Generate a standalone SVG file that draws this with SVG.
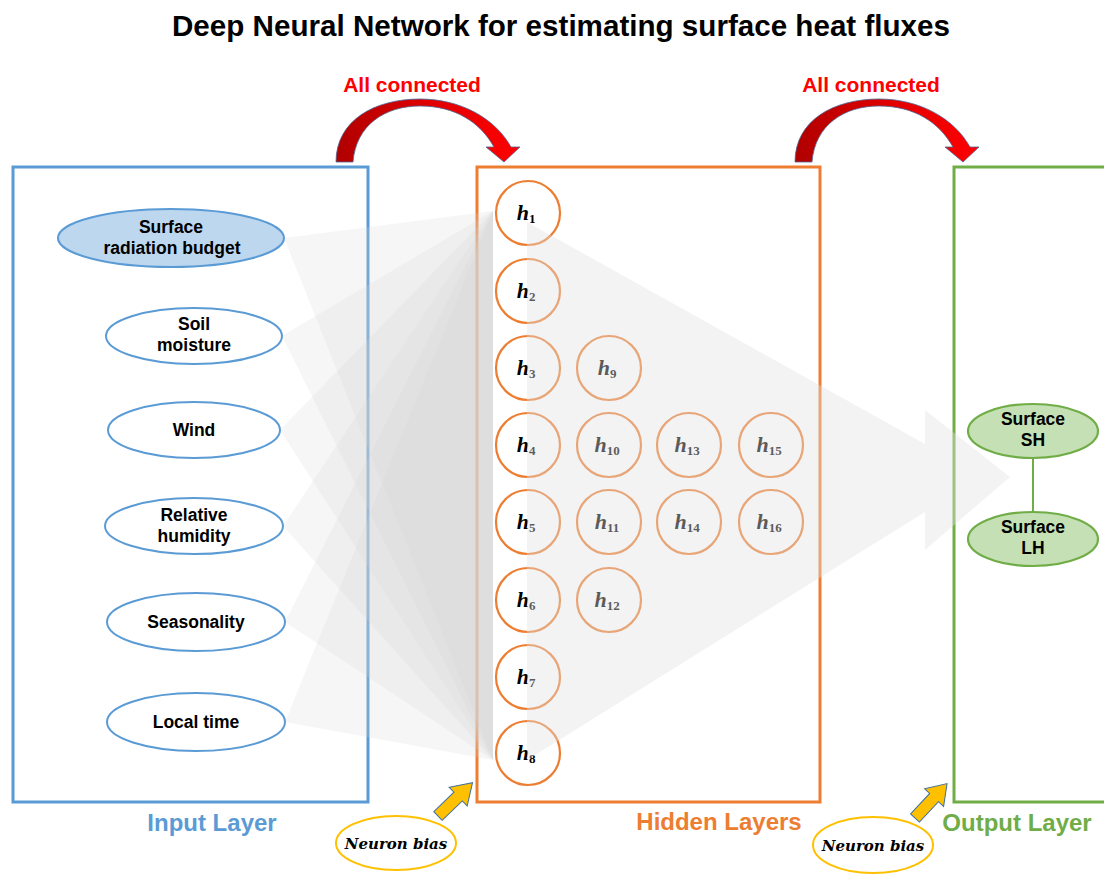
<svg xmlns="http://www.w3.org/2000/svg" width="1104" height="874" viewBox="0 0 1104 874">
<defs>
<linearGradient id="red" x1="0" y1="0" x2="1" y2="0">
<stop offset="0" stop-color="#b00000"/><stop offset="0.5" stop-color="#e00000"/><stop offset="1" stop-color="#ff0000"/>
</linearGradient>
<style>
.title{font-family:"Liberation Sans",Arial,sans-serif;font-weight:bold;font-size:29px;fill:#000}
.red{font-family:"Liberation Sans",Arial,sans-serif;font-weight:bold;font-size:21px;fill:#ff0000}
.lay{font-family:"Liberation Sans",Arial,sans-serif;font-weight:bold;font-size:24px}
.in{font-family:"Liberation Sans",Arial,sans-serif;font-weight:bold;font-size:17.5px;fill:#000}
.hl{font-family:"Liberation Serif","DejaVu Serif",serif;font-weight:bold;font-style:italic;font-size:22px;fill:#000}
.sub{font-size:13px;font-style:normal}
.nb{font-family:"DejaVu Serif","Liberation Serif",serif;font-weight:bold;font-style:italic;font-size:15px;fill:#000}
.ie{fill:#fff;stroke:#5b9bd5;stroke-width:2}
.hc{fill:#fff;stroke:#ed7d31;stroke-width:2.2}
.oe{fill:#c5e0b4;stroke:#70ad47;stroke-width:2.2}
.fan{fill:#d8d8d8;opacity:0.22}
.ya{fill:#ffc000;stroke:#41719c;stroke-width:1}
.be{fill:#fff;stroke:#ffc000;stroke-width:2}
</style>
</defs>
<rect width="1104" height="874" fill="#fff"/>
<text class="title" x="561" y="36" text-anchor="middle" textLength="778" lengthAdjust="spacingAndGlyphs">Deep Neural Network for estimating surface heat fluxes</text>

<g id="input-layer">
<rect x="13" y="167" width="355" height="635" fill="none" stroke="#5b9bd5" stroke-width="3"/>
<text class="lay" x="212" y="831" text-anchor="middle" fill="#5b9bd5">Input Layer</text>
</g>
<g id="hidden-layers">
<rect x="477" y="167" width="343" height="635" fill="none" stroke="#ed7d31" stroke-width="3"/>
<text class="lay" x="719" y="830" text-anchor="middle" fill="#ed7d31">Hidden Layers</text>
</g>
<g id="output-layer">
<rect x="954" y="167" width="170" height="635" fill="none" stroke="#70ad47" stroke-width="3"/>
<text class="lay" x="1017" y="831" text-anchor="middle" fill="#70ad47">Output Layer</text>
</g>

<g id="connectors">
<polygon class="fan" points="284,238 493,211 493,760"/>
<polygon class="fan" points="282,336 493,211 493,760"/>
<polygon class="fan" points="280,430 493,211 493,760"/>
<polygon class="fan" points="283,526 493,211 493,760"/>
<polygon class="fan" points="285,622 493,211 493,760"/>
<polygon class="fan" points="285,722 493,211 493,760"/>
<path d="M336 162 C336 120 375 99 420 99 C460 99 495 118 511 147 L520 147 L504 162 L486 147 L494 147 C480 122 455 106 420 106 C385 106 356 125 353 162 Z" fill="url(#red)" stroke="#4a6a95" stroke-width="0.8"/>
<path d="M336 162 C336 120 375 99 420 99 C460 99 495 118 511 147 L520 147 L504 162 L486 147 L494 147 C480 122 455 106 420 106 C385 106 356 125 353 162 Z" fill="url(#red)" stroke="#4a6a95" stroke-width="0.8" transform="translate(459,0)"/>
<polygon class="ya" points="0,-6 28,-6 28,-13 48,0 28,13 28,6 0,6" transform="translate(438,816) rotate(-44)"/>
<polygon class="ya" points="0,-6 28,-6 28,-13 47,0 28,13 28,6 0,6" transform="translate(915,818) rotate(-47)"/>
<line x1="1033" y1="458" x2="1033" y2="512" stroke="#70ad47" stroke-width="2"/>
</g>
<text class="red" x="412" y="92" text-anchor="middle">All connected</text>
<text class="red" x="871" y="92" text-anchor="middle">All connected</text>

<g id="in1"><ellipse cx="171" cy="238" rx="113" ry="29" fill="#bdd7ee" stroke="#5b9bd5" stroke-width="2"/><text class="in" x="171" y="233" text-anchor="middle">Surface</text><text class="in" x="172" y="254" text-anchor="middle">radiation budget</text></g>
<g id="in2"><ellipse class="ie" cx="194" cy="336" rx="88" ry="28"/><text class="in" x="194" y="330" text-anchor="middle">Soil</text><text class="in" x="194" y="351" text-anchor="middle">moisture</text></g>
<g id="in3"><ellipse class="ie" cx="194" cy="430" rx="86" ry="28"/><text class="in" x="194" y="436" text-anchor="middle">Wind</text></g>
<g id="in4"><ellipse class="ie" cx="194" cy="526" rx="89" ry="28"/><text class="in" x="194" y="521" text-anchor="middle">Relative</text><text class="in" x="194" y="542" text-anchor="middle">humidity</text></g>
<g id="in5"><ellipse class="ie" cx="196" cy="622" rx="89" ry="29"/><text class="in" x="196" y="628" text-anchor="middle">Seasonality</text></g>
<g id="in6"><ellipse class="ie" cx="196" cy="722" rx="89" ry="29"/><text class="in" x="196" y="728" text-anchor="middle">Local time</text></g>

<g id="h1"><circle class="hc" cx="528" cy="213" r="32"/><text class="hl" x="526" y="220" text-anchor="middle">h<tspan class="sub" dy="3">1</tspan></text></g>
<g id="h2"><circle class="hc" cx="528" cy="291" r="32"/><text class="hl" x="526" y="298" text-anchor="middle">h<tspan class="sub" dy="3">2</tspan></text></g>
<g id="h3"><circle class="hc" cx="528" cy="368" r="32"/><text class="hl" x="526" y="375" text-anchor="middle">h<tspan class="sub" dy="3">3</tspan></text></g>
<g id="h4"><circle class="hc" cx="528" cy="445" r="32"/><text class="hl" x="526" y="452" text-anchor="middle">h<tspan class="sub" dy="3">4</tspan></text></g>
<g id="h5"><circle class="hc" cx="528" cy="522" r="32"/><text class="hl" x="526" y="529" text-anchor="middle">h<tspan class="sub" dy="3">5</tspan></text></g>
<g id="h6"><circle class="hc" cx="528" cy="600" r="32"/><text class="hl" x="526" y="607" text-anchor="middle">h<tspan class="sub" dy="3">6</tspan></text></g>
<g id="h7"><circle class="hc" cx="528" cy="677" r="32"/><text class="hl" x="526" y="684" text-anchor="middle">h<tspan class="sub" dy="3">7</tspan></text></g>
<g id="h8"><circle class="hc" cx="528" cy="753" r="32"/><text class="hl" x="526" y="760" text-anchor="middle">h<tspan class="sub" dy="3">8</tspan></text></g>
<g id="h9"><circle class="hc" cx="609" cy="368" r="32"/><text class="hl" x="607" y="375" text-anchor="middle">h<tspan class="sub" dy="3">9</tspan></text></g>
<g id="h10"><circle class="hc" cx="609" cy="445" r="32"/><text class="hl" x="607" y="452" text-anchor="middle">h<tspan class="sub" dy="3">10</tspan></text></g>
<g id="h11"><circle class="hc" cx="609" cy="522" r="32"/><text class="hl" x="607" y="529" text-anchor="middle">h<tspan class="sub" dy="3">11</tspan></text></g>
<g id="h12"><circle class="hc" cx="609" cy="600" r="32"/><text class="hl" x="607" y="607" text-anchor="middle">h<tspan class="sub" dy="3">12</tspan></text></g>
<g id="h13"><circle class="hc" cx="689" cy="445" r="32"/><text class="hl" x="687" y="452" text-anchor="middle">h<tspan class="sub" dy="3">13</tspan></text></g>
<g id="h14"><circle class="hc" cx="689" cy="522" r="32"/><text class="hl" x="687" y="529" text-anchor="middle">h<tspan class="sub" dy="3">14</tspan></text></g>
<g id="h15"><circle class="hc" cx="771" cy="445" r="32"/><text class="hl" x="769" y="452" text-anchor="middle">h<tspan class="sub" dy="3">15</tspan></text></g>
<g id="h16"><circle class="hc" cx="771" cy="522" r="32"/><text class="hl" x="769" y="529" text-anchor="middle">h<tspan class="sub" dy="3">16</tspan></text></g>

<polygon id="flow" points="527,222 925,444 925,410 1010,477 925,550 925,512 527,760" fill="#e0e0e0" opacity="0.4"/>

<g id="out1"><ellipse class="oe" cx="1033" cy="431" rx="65" ry="27"/><text class="in" x="1033" y="425" text-anchor="middle">Surface</text><text class="in" x="1033" y="446" text-anchor="middle">SH</text></g>
<g id="out2"><ellipse class="oe" cx="1033" cy="539" rx="65" ry="27"/><text class="in" x="1033" y="533" text-anchor="middle">Surface</text><text class="in" x="1033" y="554" text-anchor="middle">LH</text></g>

<g id="bias1"><ellipse class="be" cx="396" cy="843" rx="60" ry="27"/><text class="nb" x="396" y="849" text-anchor="middle">Neuron bias</text></g>
<g id="bias2"><ellipse class="be" cx="873" cy="845" rx="60" ry="28"/><text class="nb" x="873" y="851" text-anchor="middle">Neuron bias</text></g>
</svg>
